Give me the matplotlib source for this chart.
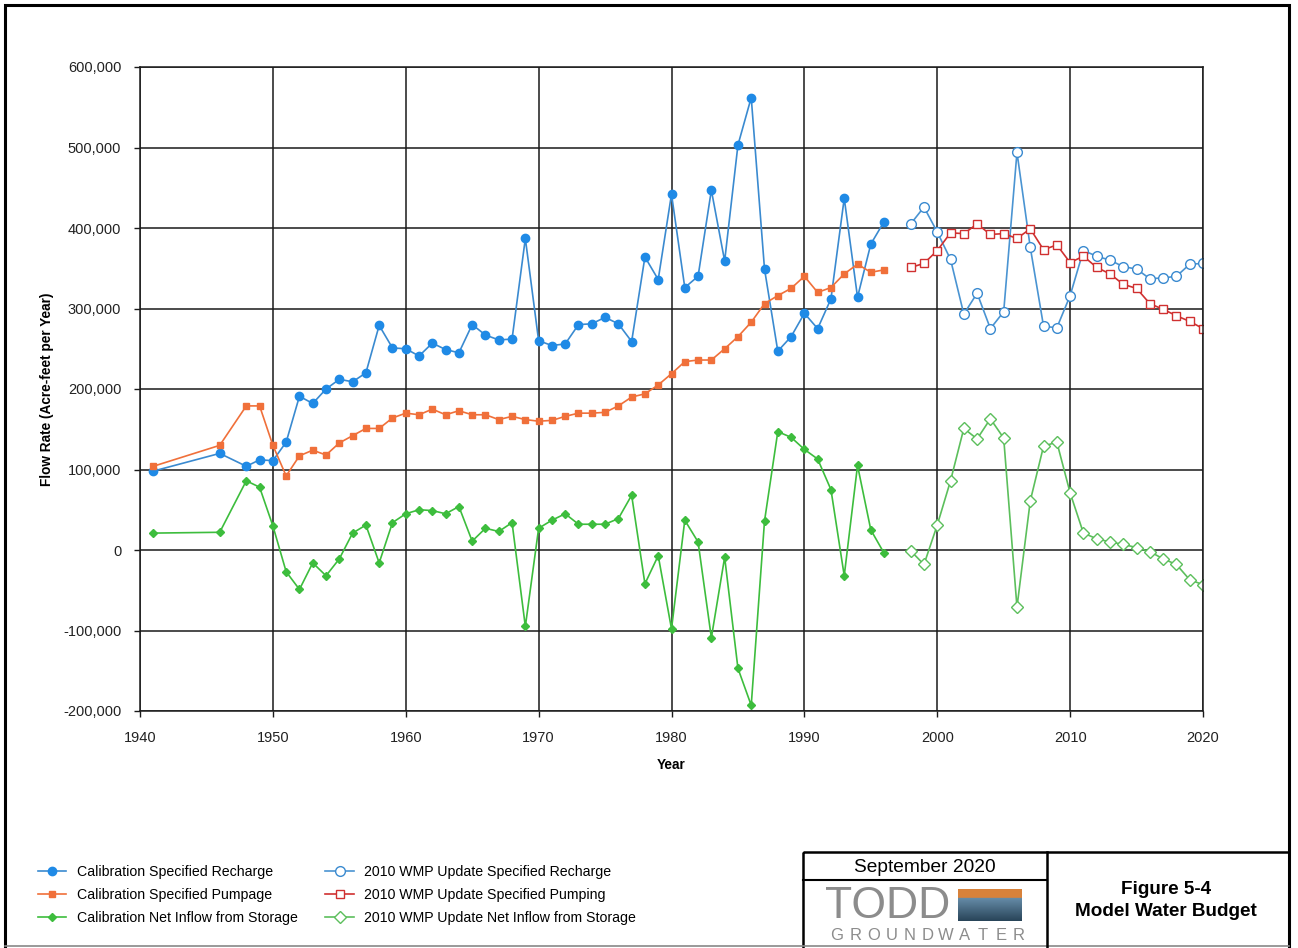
import numpy as np
import matplotlib
matplotlib.use("Agg")
import matplotlib.pyplot as plt
from matplotlib.ticker import FuncFormatter, MultipleLocator
from matplotlib.patches import Rectangle

plt.rcParams['font.family'] = ['Liberation Sans', 'DejaVu Sans']

# calibration period (1941, 1946, 1948-1996)
cal_years = [1941, 1946] + list(range(1948, 1997))
cal_recharge = [98000, 120000, 104000, 112000, 111000, 134000, 191000, 182000, 200000, 212000,
                209000, 220000, 279000, 251000, 250000, 241000, 257000, 249000, 245000, 280000,
                267000, 261000, 262000, 387000, 260000, 254000, 256000, 280000, 281000, 289000,
                281000, 259000, 364000, 336000, 442000, 326000, 340000, 447000, 359000, 503000,
                562000, 349000, 247000, 265000, 294000, 275000, 312000, 437000, 314000, 380000,
                408000]
cal_pumpage = [104000, 130000, 179000, 179000, 130000, 92000, 117000, 124000, 118000, 133000,
               142000, 151000, 151000, 164000, 170000, 168000, 175000, 168000, 173000, 168000,
               168000, 162000, 166000, 162000, 160000, 161000, 166000, 170000, 170000, 171000,
               179000, 190000, 194000, 205000, 219000, 234000, 236000, 236000, 250000, 265000,
               283000, 306000, 316000, 325000, 340000, 320000, 326000, 343000, 355000, 345000,
               348000]
cal_storage = [21000, 22000, 86000, 78000, 30000, -27000, -49000, -16000, -32000, -11000,
               21000, 31000, -16000, 34000, 45000, 50000, 49000, 45000, 54000, 11000,
               27000, 23000, 34000, -95000, 27000, 37000, 45000, 32000, 32000, 32000,
               39000, 68000, -42000, -7000, -98000, 37000, 10000, -109000, -9000, -147000,
               -193000, 36000, 147000, 140000, 125000, 113000, 75000, -32000, 105000, 25000,
               -4000]

# 2010 WMP update period (1998-2020)
wmp_years = list(range(1998, 2021))
wmp_recharge = [405000, 426000, 395000, 361000, 293000, 319000, 275000, 296000, 494000, 376000,
                278000, 276000, 316000, 372000, 365000, 360000, 352000, 349000, 337000, 338000,
                340000, 355000, 356000]
wmp_pumping = [351000, 356000, 372000, 394000, 393000, 405000, 392000, 393000, 387000, 399000,
               373000, 379000, 357000, 365000, 351000, 343000, 330000, 325000, 306000, 299000,
               291000, 284000, 275000]
wmp_storage = [-1000, -18000, 31000, 86000, 151000, 138000, 163000, 139000, -71000, 61000,
               129000, 134000, 71000, 21000, 14000, 10000, 7000, 3000, -2000, -11000,
               -18000, -37000, -43000]

W, H = 1298, 948
fig = plt.figure(figsize=(W / 100, H / 100), dpi=100)

# page frame and title block drawn in pixel coordinates
bg = fig.add_axes([0, 0, 1, 1], zorder=0)
bg.set_xlim(0, W)
bg.set_ylim(H, 0)
bg.axis('off')
bg.plot([5, 5, 1289, 1289], [948, 5, 5, 948], color='black', lw=2.2, solid_joinstyle='miter')
bg.plot([5, 1289], [946, 946], color='#888888', lw=1.2)
bg.add_patch(Rectangle((803, 852), 486, 100, fill=False, ec='black', lw=1.8))
bg.plot([1047, 1047], [852, 948], color='black', lw=1.8)
bg.plot([803, 1047], [880, 880], color='black', lw=1.5)
bg.text(925, 867, 'September 2020', ha='center', va='center', fontsize=13.8)
bg.text(1166, 889, 'Figure 5-4', ha='center', va='center', fontsize=13.6, fontweight='bold')
bg.text(1166, 911, 'Model Water Budget', ha='center', va='center', fontsize=13.6,
        fontweight='bold')

# logo
bg.text(888, 906, 'TODD', ha='center', va='center', fontsize=32, color='#8c8c8c')
grad = np.linspace(0, 1, 40)
logo = np.zeros((40, 2, 3))
orange = np.array([0.85, 0.51, 0.23])
blue_top = np.array([0.40, 0.55, 0.66])
blue_bot = np.array([0.16, 0.27, 0.35])
for i, g in enumerate(grad):
    if g < 0.27:
        logo[i] = orange
    else:
        t = (g - 0.27) / 0.73
        logo[i] = blue_top * (1 - t) + blue_bot * t
bg.imshow(logo, extent=(958, 1022, 921, 889), aspect='auto', zorder=1)
for i, ch in enumerate('GROUNDWATER'):
    bg.text(837 + i * 18.2, 935, ch, ha='center', va='center', fontsize=12,
            color='#8c8c8c')

# main chart
ax = fig.add_axes([140 / W, 1 - 711 / H, (1203 - 140) / W, (711 - 67) / H], zorder=2)

c_blue = '#1f8ae6'
c_orange = '#f0703a'
c_green = '#3dbd3d'
c_red = '#d03030'

ax.plot(cal_years, cal_recharge, color='#3a8ad0', lw=1.2, marker='o', ms=6,
        mfc=c_blue, mec=c_blue, label='Calibration Specified Recharge')
ax.plot(cal_years, cal_pumpage, color=c_orange, lw=1.2, marker='s', ms=5,
        mfc=c_orange, mec=c_orange, label='Calibration Specified Pumpage')
ax.plot(cal_years, cal_storage, color=c_green, lw=1.2, marker='D', ms=4.5,
        mfc=c_green, mec=c_green, label='Calibration Net Inflow from Storage')
ax.plot(wmp_years, wmp_recharge, color='#4a94d2', lw=1.2, marker='o', ms=7,
        mfc='white', mec='#3a8ad0', mew=1.0, label='2010 WMP Update Specified Recharge')
ax.plot(wmp_years, wmp_pumping, color=c_red, lw=1.2, marker='s', ms=6,
        mfc='white', mec=c_red, mew=1.0, label='2010 WMP Update Specified Pumping')
ax.plot(wmp_years, wmp_storage, color='#5cbf5c', lw=1.2, marker='D', ms=6,
        mfc='white', mec='#5cbf5c', mew=1.0, label='2010 WMP Update Net Inflow from Storage')

ax.set_xlim(1940, 2020)
ax.set_ylim(-200000, 600000)
ax.xaxis.set_major_locator(MultipleLocator(10))
ax.yaxis.set_major_locator(MultipleLocator(100000))
ax.yaxis.set_major_formatter(FuncFormatter(lambda v, p: f'{int(v):,}'))
ax.grid(True, color='#1a1a1a', lw=1.1)
ax.set_axisbelow(True)
for s in ax.spines.values():
    s.set_color('#1a1a1a')
    s.set_linewidth(1.1)
ax.tick_params(axis='both', direction='out', length=4.5, width=1.0, color='#1a1a1a',
               labelsize=10.5, labelcolor='#222222')
ax.tick_params(axis='y', pad=9)
ax.tick_params(axis='x', pad=10)
ax.set_xlabel('Year', fontsize=9.8, fontweight='bold', labelpad=9)
ax.set_ylabel('Flow Rate (Acre-feet per Year)', fontsize=9.8, fontweight='bold', labelpad=6.5)

handles, labels = ax.get_legend_handles_labels()
fig.legend(handles, labels, ncol=2, frameon=False, fontsize=10.2,
           loc='upper left', bbox_to_anchor=(38 / W, 1 - 865 / H),
           borderpad=0, borderaxespad=0, handlelength=2.0, handletextpad=0.75,
           columnspacing=1.95, labelspacing=0.65, numpoints=1)

plt.savefig('out.png', dpi=100)
